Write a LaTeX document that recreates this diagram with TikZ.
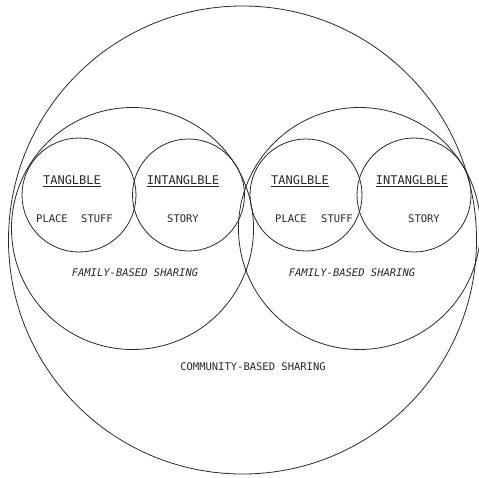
\documentclass[tikz,border=0pt]{standalone}
\usepackage{fontspec}
\setmonofont{DejaVu Sans Mono}
\usetikzlibrary{positioning}
\definecolor{inkgray}{RGB}{40,40,40}
\tikzset{
  ring/.style={draw=inkgray, line width=0.8pt},
  hdr/.style={font=\fontsize{12}{12}\selectfont\ttfamily, text=inkgray, inner sep=1pt},
  itm/.style={font=\fontsize{10.5}{10.5}\selectfont\ttfamily, text=inkgray, inner sep=1pt},
  lvl/.style={font=\fontsize{10.5}{10.5}\selectfont\ttfamily\itshape, text=inkgray, inner sep=1pt},
}

\begin{document}
\begin{tikzpicture}[x=1pt, y=-1pt]
    \useasboundingbox (0,0) rectangle (479,477);
    % community
    \draw[ring] (242.5,240) circle[radius=234pt];
    % families
    \draw[ring] (132.5,228.5) circle[radius=121pt];
    \draw[ring] (359.5,228.5) circle[radius=121pt];
    % tangible / intangible
    \draw[ring] (79,195) circle[radius=57pt];
    \draw[ring] (188.5,195) circle[radius=56pt];
    \draw[ring] (306,195) circle[radius=56pt];
    \draw[ring] (414,195) circle[radius=57pt];
    % left family
    \node[hdr] (tanL) at (72,181) {\underline{TANGLBLE}};
    \node[hdr] (intL) at (183,181) {\underline{INTANGLBLE}};
    \node[itm] (plcL) at (52,219) {PLACE};
    \node[itm] (stfL) at (97,219) {STUFF};
    \node[itm] (stoL) at (183,219) {STORY};
    \node[lvl] (famL) at (135,273) {FAMILY-BASED SHARING};
    % right family
    \node[hdr] (tanR) at (300,181) {\underline{TANGLBLE}};
    \node[hdr] (intR) at (412,181) {\underline{INTANGLBLE}};
    \node[itm] (plcR) at (291,219) {PLACE};
    \node[itm] (stfR) at (337,219) {STUFF};
    \node[itm] (stoR) at (424,219) {STORY};
    \node[lvl] (famR) at (352,273) {FAMILY-BASED SHARING};
    % community
    \node[itm] (comm) at (253,367) {COMMUNITY-BASED SHARING};
\end{tikzpicture}
\end{document}
